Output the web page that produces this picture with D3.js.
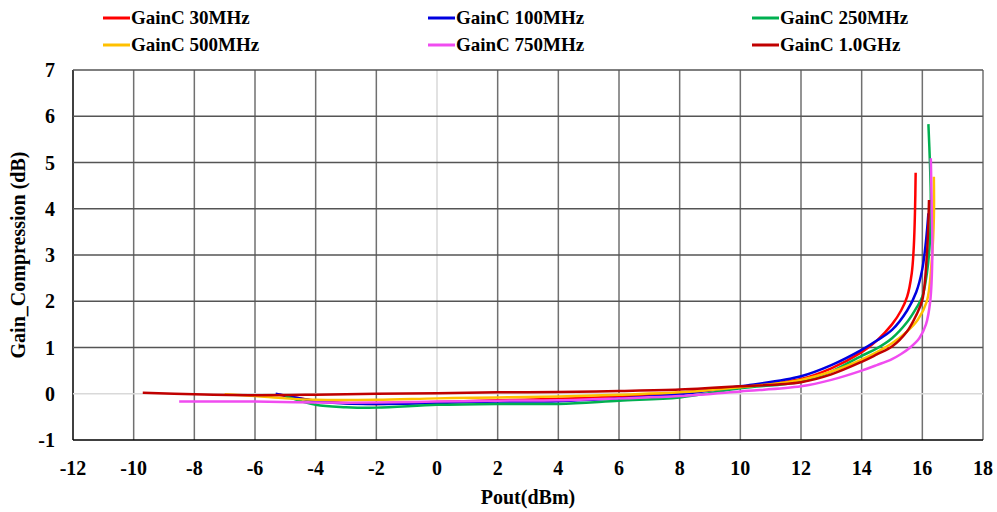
<!DOCTYPE html>
<html>
<head>
<meta charset="utf-8">
<script src="https://cdn.jsdelivr.net/npm/d3@7"></script>
<style>
  body { margin: 0; background: #fff; }
</style>
</head>
<body>
<div id="chart"></div>
<script>
// Gain compression vs output power, one array pair per frequency
var x30M  = [-5.2, -4, -3, -2, 0, 2, 4, 6, 8, 10, 12, 13, 14, 14.5, 15, 15.3, 15.5, 15.65, 15.72, 15.76, 15.78];
var y30M  = [-0.02, -0.15, -0.2, -0.22, -0.18, -0.14, -0.11, -0.06, 0.02, 0.15, 0.32, 0.55, 0.9, 1.15, 1.5, 1.8, 2.1, 2.6, 3.2, 4.0, 4.78];

var x100M = [-5.32, -4.5, -4, -3, -2, 0, 2, 4, 6, 8, 10, 12, 13, 14, 14.5, 15, 15.5, 15.8, 16.0, 16.12, 16.2];
var y100M = [0.0, -0.1, -0.16, -0.21, -0.22, -0.2, -0.17, -0.16, -0.1, -0.01, 0.16, 0.38, 0.62, 0.95, 1.15, 1.38, 1.8, 2.2, 2.7, 3.3, 3.9];

var x250M = [-5.0, -4, -3, -2, 0, 2, 4, 6, 8, 10, 12, 13, 14, 14.5, 15, 15.5, 15.8, 16.0, 16.15, 16.25, 16.28, 16.25, 16.2];
var y250M = [-0.05, -0.24, -0.29, -0.3, -0.24, -0.22, -0.22, -0.15, -0.08, 0.12, 0.26, 0.48, 0.82, 0.98, 1.2, 1.55, 1.85, 2.1, 2.6, 3.3, 4.2, 5.0, 5.83];

var x500M = [-7.0, -6, -5, -4, -2, 0, 2, 4, 6, 8, 10, 12, 13, 14, 14.5, 15, 15.5, 15.85, 16.15, 16.3, 16.38, 16.38];
var y500M = [-0.01, -0.05, -0.1, -0.13, -0.13, -0.1, -0.08, -0.06, -0.02, 0.03, 0.14, 0.3, 0.48, 0.74, 0.9, 1.09, 1.35, 1.6, 2.0, 2.8, 3.8, 4.69];

var x750M = [-8.5, -6, -4, -2, 0, 2, 4, 6, 8, 10, 12, 13, 14, 14.5, 15, 15.3, 15.6, 15.9, 16.12, 16.26, 16.33, 16.31, 16.28];
var y750M = [-0.17, -0.17, -0.19, -0.19, -0.17, -0.15, -0.14, -0.1, -0.05, 0.05, 0.16, 0.3, 0.5, 0.62, 0.75, 0.86, 1.0, 1.2, 1.5, 2.0, 3.0, 4.0, 5.09];

var x1G   = [-9.7, -8, -6, -4, -2, 0, 2, 4, 6, 8, 10, 12, 13, 14, 14.5, 15, 15.5, 15.8, 16.0, 16.15, 16.22];
var y1G   = [0.02, -0.01, -0.03, -0.02, 0.0, 0.01, 0.03, 0.04, 0.06, 0.09, 0.16, 0.25, 0.42, 0.69, 0.85, 1.02, 1.35, 1.7, 2.03, 3.0, 4.19];

var seriesNames  = ["GainC 30MHz", "GainC 100MHz", "GainC 250MHz", "GainC 500MHz", "GainC 750MHz", "GainC 1.0GHz"];
var seriesColors = ["#ff0000", "#0000e0", "#00b050", "#ffc000", "#f04cf0", "#c00000"];
var seriesX = [x30M, x100M, x250M, x500M, x750M, x1G];
var seriesY = [y30M, y100M, y250M, y500M, y750M, y1G];

var xTicks = d3.range(-12, 19, 2);
var yTicks = d3.range(-1, 8, 1);

var width = 997, height = 512;
var margin = {top: 70, right: 14, bottom: 72, left: 73};
var fontFam = "'Liberation Serif', 'Times New Roman', serif";

var x = d3.scaleLinear().domain([-12, 18]).range([margin.left, width - margin.right]);
var y = d3.scaleLinear().domain([-1, 7]).range([height - margin.bottom, margin.top]);

var svg = d3.select("#chart").append("svg")
    .attr("width", width)
    .attr("height", height)
    .attr("font-family", fontFam)
    .attr("font-weight", "bold");

// gridlines
svg.append("g")
    .selectAll("line")
    .data(xTicks)
    .enter().append("line")
    .attr("x1", function(d) { return x(d); })
    .attr("x2", function(d) { return x(d); })
    .attr("y1", y(7))
    .attr("y2", y(-1))
    .attr("stroke", function(d) { return d === 0 ? "#d9d9d9" : (d === -12 ? "#000" : "#707070"); })
    .attr("stroke-width", 1.5);

svg.append("g")
    .selectAll("line")
    .data(yTicks)
    .enter().append("line")
    .attr("x1", x(-12))
    .attr("x2", x(18))
    .attr("y1", function(d) { return y(d); })
    .attr("y2", function(d) { return y(d); })
    .attr("stroke", function(d) { return d === 0 ? "#d9d9d9" : (d === -1 ? "#000" : "#555"); })
    .attr("stroke-width", 1.5);

// tick labels
svg.append("g")
    .selectAll("text")
    .data(xTicks)
    .enter().append("text")
    .attr("x", function(d) { return x(d); })
    .attr("y", y(-1) + 35)
    .attr("text-anchor", "middle")
    .attr("font-size", 20)
    .text(function(d) { return d; });

svg.append("g")
    .selectAll("text")
    .data(yTicks)
    .enter().append("text")
    .attr("x", 55)
    .attr("y", function(d) { return y(d) + 7; })
    .attr("text-anchor", "end")
    .attr("font-size", 20)
    .text(function(d) { return d; });

// axis titles
svg.append("text")
    .attr("x", (x(-12) + x(18)) / 2)
    .attr("y", 504)
    .attr("text-anchor", "middle")
    .attr("font-size", 20)
    .text("Pout(dBm)");

svg.append("text")
    .attr("transform", "translate(25," + ((y(7) + y(-1)) / 2) + ") rotate(-90)")
    .attr("text-anchor", "middle")
    .attr("font-size", 20)
    .text("Gain_Compression (dB)");

// curves
var line = d3.line()
    .x(function(d) { return x(d[0]); })
    .y(function(d) { return y(d[1]); })
    .curve(d3.curveCatmullRom.alpha(0.5));

seriesNames.forEach(function(name, i) {
    var pts = seriesX[i].map(function(v, j) { return [v, seriesY[i][j]]; });
    svg.append("path")
        .datum(pts)
        .attr("fill", "none")
        .attr("stroke", seriesColors[i])
        .attr("stroke-width", 2.5)
        .attr("d", line);
});

// legend
var legendX = [103, 428, 752];
var legendY = [18, 45];
var legend = svg.append("g")
    .selectAll("g")
    .data(seriesNames)
    .enter().append("g")
    .attr("transform", function(d, i) { return "translate(" + legendX[i % 3] + "," + legendY[Math.floor(i / 3)] + ")"; });

legend.append("line")
    .attr("x1", 0).attr("x2", 27)
    .attr("y1", 0).attr("y2", 0)
    .attr("stroke", function(d, i) { return seriesColors[i]; })
    .attr("stroke-width", 3);

legend.append("text")
    .attr("x", 28)
    .attr("y", 6)
    .attr("font-size", 19)
    .text(function(d) { return d; });
</script>
</body>
</html>
